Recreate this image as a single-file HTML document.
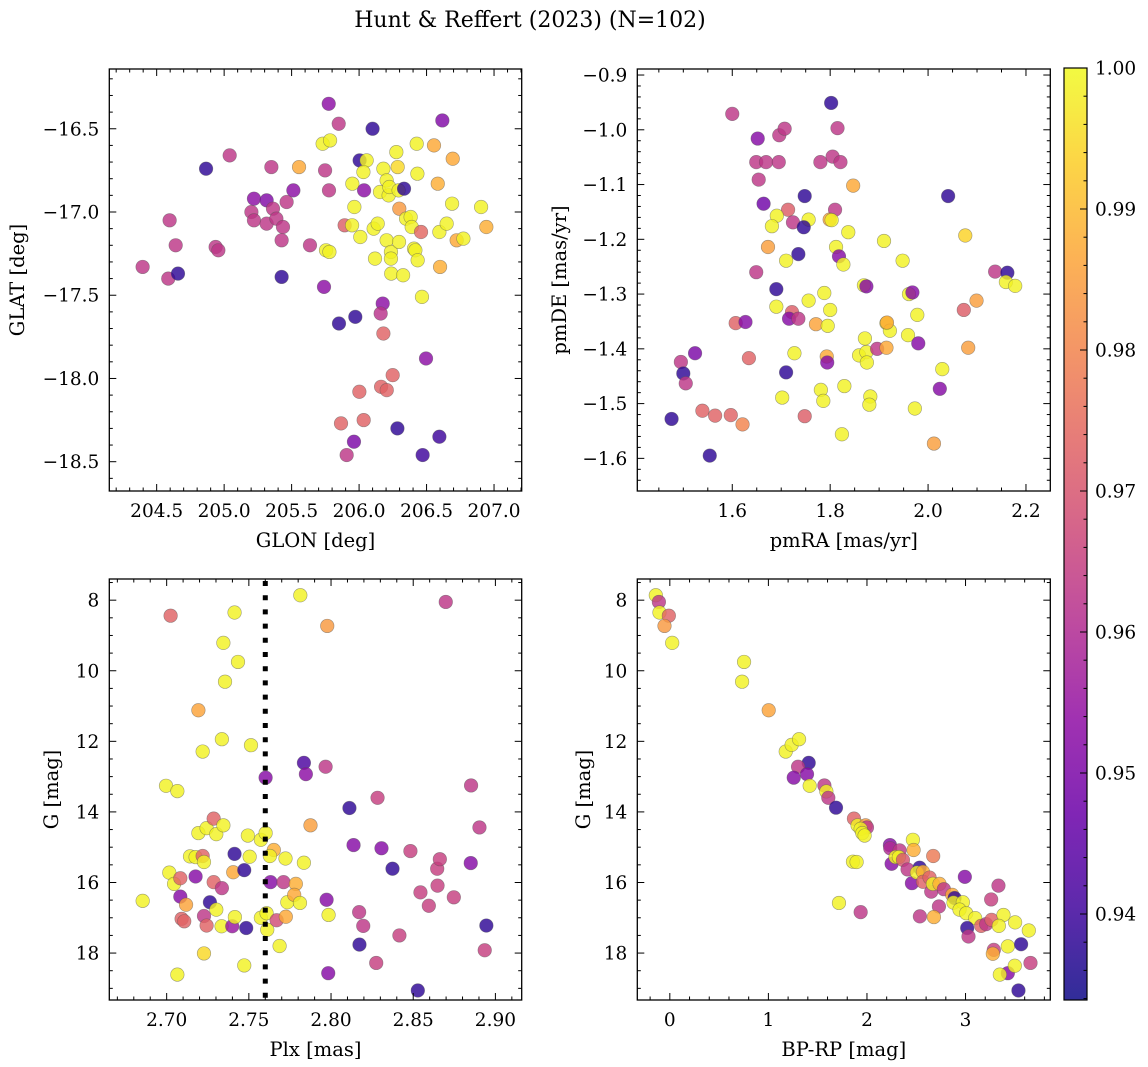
<!DOCTYPE html>
<html><head><meta charset="utf-8"><style>
html,body{margin:0;padding:0;background:#fff;}
svg{display:block;font-family:"DejaVu Serif","Liberation Serif",serif;}
</style></head><body>
<svg id="fig" width="1148" height="1067" viewBox="0 0 1148 1067" xmlns="http://www.w3.org/2000/svg">
<text x="530" y="27" font-size="22" text-anchor="middle">Hunt &amp; Reffert (2023) (N=102)</text>
</svg>
<script>
// ---------- data ----------
const p1Lon=[204.396,204.586,204.658,204.596,204.641,204.866,204.937,204.957,205.041,205.202,205.221,205.221,205.315,205.315,205.362,205.387,205.35,205.436,205.426,205.463,205.426,205.513,205.555,205.636,205.73,205.785,205.748,205.777,205.775,205.849,205.755,205.78,205.74,205.893,205.95,205.948,205.965,206.009,206.004,206.056,206.032,206.037,206.1,206.108,206.138,206.155,206.18,206.204,206.219,206.224,206.204,206.236,206.236,206.238,206.296,206.276,206.286,206.293,206.333,206.298,206.326,206.118,206.348,206.382,206.39,206.407,206.417,206.432,206.427,206.434,206.459,206.466,206.555,206.583,206.595,206.6,206.617,206.649,206.689,206.694,206.723,206.773,206.904,206.943,206.175,206.16,206.18,205.972,205.851,206.496,206.249,206.163,206.205,206.002,206.034,205.866,206.284,206.595,205.962,205.908,206.471];
const p1Lat=[-17.33,-17.40,-17.37,-17.05,-17.20,-16.74,-17.21,-17.23,-16.66,-17.0,-17.05,-16.92,-16.93,-17.07,-16.98,-17.04,-16.73,-17.09,-17.17,-16.94,-17.39,-16.87,-16.73,-17.20,-16.59,-16.57,-16.75,-16.87,-16.35,-16.47,-17.23,-17.24,-17.45,-17.08,-16.83,-17.08,-16.97,-17.15,-16.69,-16.69,-16.76,-16.87,-16.50,-17.1,-17.07,-16.88,-16.74,-16.81,-16.90,-16.85,-17.17,-17.24,-17.28,-17.37,-17.18,-16.64,-16.73,-16.87,-16.86,-16.98,-17.38,-17.28,-17.04,-17.03,-17.09,-17.22,-17.23,-16.77,-16.59,-17.29,-17.12,-17.51,-16.60,-16.83,-17.12,-17.33,-16.45,-17.07,-16.95,-16.68,-17.17,-17.16,-16.97,-17.09,-17.55,-17.61,-17.73,-17.63,-17.67,-17.88,-17.98,-18.05,-18.07,-18.08,-18.25,-18.27,-18.30,-18.35,-18.38,-18.46,-18.46];
const p1Prob=[0.963,0.963,0.938,0.963,0.963,0.938,0.963,0.963,0.963,0.963,0.963,0.953,0.951,0.963,0.963,0.963,0.963,0.963,0.963,0.963,0.938,0.953,0.987,0.963,0.999,0.999,0.963,0.963,0.953,0.963,0.999,0.999,0.953,0.972,0.999,0.999,0.999,0.999,0.938,0.999,0.999,0.953,0.938,0.999,0.999,0.999,0.999,0.999,0.999,0.999,0.999,0.999,0.999,0.999,0.999,0.999,0.995,0.999,0.938,0.984,0.999,0.999,0.999,0.999,0.999,0.999,0.999,0.999,0.999,0.999,0.974,0.999,0.987,0.988,0.999,0.988,0.951,0.999,0.999,0.987,0.987,0.999,0.999,0.988,0.953,0.962,0.973,0.938,0.938,0.953,0.973,0.973,0.973,0.973,0.973,0.973,0.938,0.940,0.950,0.963,0.940];

const p2Pmra=[1.6,1.652,1.696,1.707,1.649,1.669,1.695,1.654,1.664,1.714,1.691,1.724,1.681,1.673,1.710,1.649,1.690,1.748,1.756,1.746,1.735,1.690,1.722,1.716,1.735,1.756,1.771,1.788,1.80,1.795,1.702,1.710,1.727,1.748,1.781,1.786,1.793,1.794,1.802,1.815,1.805,1.821,1.780,1.810,1.799,1.803,1.812,1.818,1.827,1.837,1.847,1.829,1.824,1.869,1.874,1.910,1.948,1.871,1.859,1.874,1.875,1.896,1.915,1.915,1.922,1.916,1.959,1.961,1.968,1.978,1.980,1.882,1.880,1.973,2.024,2.029,2.012,2.041,2.076,2.073,2.099,2.082,2.137,2.162,2.159,2.178,1.476,1.495,1.500,1.505,1.524,1.539,1.565,1.597,1.621,1.554,1.607,1.627,1.634];
const p2Pmde=[-0.971,-1.016,-1.01,-0.998,-1.059,-1.059,-1.059,-1.091,-1.135,-1.146,-1.157,-1.169,-1.176,-1.214,-1.239,-1.260,-1.291,-1.121,-1.164,-1.178,-1.227,-1.323,-1.333,-1.345,-1.345,-1.312,-1.355,-1.298,-1.329,-1.358,-1.489,-1.443,-1.408,-1.523,-1.475,-1.495,-1.414,-1.425,-0.951,-0.997,-1.049,-1.059,-1.059,-1.146,-1.164,-1.165,-1.214,-1.231,-1.246,-1.187,-1.102,-1.468,-1.556,-1.284,-1.286,-1.203,-1.239,-1.381,-1.412,-1.406,-1.425,-1.400,-1.398,-1.353,-1.367,-1.352,-1.375,-1.300,-1.297,-1.338,-1.390,-1.487,-1.502,-1.509,-1.473,-1.437,-1.573,-1.121,-1.193,-1.329,-1.312,-1.398,-1.259,-1.261,-1.278,-1.285,-1.528,-1.424,-1.445,-1.463,-1.408,-1.513,-1.522,-1.521,-1.538,-1.595,-1.353,-1.351,-1.417];
const p2Prob=[0.963,0.952,0.963,0.963,0.963,0.963,0.963,0.963,0.948,0.972,0.999,0.963,0.999,0.985,0.999,0.963,0.938,0.938,0.999,0.938,0.938,0.999,0.972,0.952,0.963,0.999,0.986,0.999,0.999,0.999,0.999,0.938,0.999,0.972,0.999,0.999,0.987,0.952,0.938,0.963,0.963,0.963,0.963,0.963,0.987,0.999,0.999,0.952,0.999,0.999,0.987,0.999,0.999,0.999,0.952,0.999,0.999,0.999,0.999,0.999,0.999,0.963,0.987,0.999,0.999,0.987,0.999,0.999,0.952,0.999,0.952,0.999,0.999,0.999,0.952,0.999,0.985,0.938,0.994,0.972,0.985,0.985,0.963,0.938,0.999,0.999,0.938,0.963,0.938,0.963,0.950,0.973,0.973,0.973,0.980,0.938,0.973,0.952,0.973];

const p3Plx=[2.6854,2.6996,2.7024,2.7065,2.7016,2.7045,2.7083,2.7083,2.7118,2.7091,2.7107,2.7065,2.7142,2.7176,2.7219,2.7227,2.7176,2.7193,2.7243,2.7302,2.7286,2.7345,2.7193,2.7219,2.7336,2.7513,2.7345,2.7434,2.7355,2.7413,2.7286,2.7336,2.7227,2.7243,2.7227,2.7263,2.7302,2.7334,2.7399,2.7415,2.7405,2.7413,2.7472,2.7505,2.7494,2.7484,2.7472,2.7573,2.7602,2.7602,2.7652,2.7628,2.7632,2.7573,2.7608,2.7612,2.7669,2.7687,2.7711,2.7723,2.7734,2.7725,2.7786,2.7776,2.7811,2.7835,2.7813,2.7835,2.7847,2.7875,2.7967,2.7977,2.7973,2.7985,2.7983,2.8112,2.8137,2.8171,2.8196,2.8173,2.8283,2.8307,2.8275,2.8374,2.8416,2.8483,2.8544,2.8595,2.8646,2.8662,2.8648,2.8747,2.8528,2.8698,2.8852,2.8850,2.8903,2.8945,2.8935];
const p3G=[16.52,13.26,8.44,13.41,15.72,16.04,15.88,16.40,16.63,17.03,17.10,18.61,15.26,15.28,15.25,15.42,15.83,14.60,14.46,14.63,14.19,14.38,11.12,12.29,11.94,12.11,9.21,9.75,10.31,8.35,15.99,16.16,16.95,17.22,18.01,16.56,16.77,17.24,17.24,16.98,15.71,15.19,15.65,15.27,14.67,17.29,18.35,14.79,14.60,13.03,15.08,15.25,15.99,17.0,16.87,17.34,17.07,17.80,15.99,15.32,16.56,16.97,16.04,16.35,16.58,15.44,7.86,12.61,12.93,14.38,12.72,8.73,16.49,16.92,18.57,13.89,14.94,16.84,17.23,17.76,13.60,15.03,18.28,15.61,17.5,15.11,16.28,16.66,15.61,15.34,16.09,16.42,19.06,8.05,13.25,15.45,14.44,17.22,17.92];
const p3Prob=[0.999,0.999,0.973,0.999,0.999,0.999,0.973,0.952,0.986,0.973,0.973,0.999,0.999,0.999,0.973,0.999,0.952,0.999,0.999,0.999,0.973,0.999,0.986,0.999,0.999,0.999,0.999,0.999,0.999,0.999,0.973,0.963,0.963,0.973,0.995,0.938,0.999,0.999,0.955,0.999,0.987,0.938,0.938,0.999,0.999,0.938,0.999,0.999,0.999,0.952,0.988,0.999,0.952,0.999,0.999,0.999,0.968,0.999,0.963,0.999,0.999,0.987,0.988,0.987,0.999,0.999,0.999,0.942,0.953,0.985,0.963,0.984,0.952,0.999,0.952,0.938,0.952,0.963,0.963,0.938,0.965,0.952,0.965,0.938,0.965,0.965,0.965,0.965,0.965,0.965,0.965,0.965,0.938,0.963,0.963,0.952,0.963,0.938,0.965];

const p4Bprp=[-0.142,-0.111,-0.105,-0.01,-0.054,0.024,0.753,0.733,1.003,1.176,1.236,1.311,1.409,1.301,1.257,1.392,1.419,1.568,1.588,1.608,1.686,1.716,1.868,1.905,1.986,2.0,1.936,1.953,1.976,1.858,1.895,1.936,2.233,2.236,2.331,2.25,2.29,2.324,2.365,2.412,2.456,2.466,2.473,2.534,2.507,2.568,2.568,2.635,2.652,2.672,2.669,2.736,2.78,2.73,2.679,2.537,2.865,2.889,2.878,2.973,2.939,2.993,3.007,3.098,3.017,3.03,3.159,3.209,3.264,3.26,3.334,3.385,3.338,3.503,3.642,3.287,3.277,3.429,3.564,3.429,3.348,3.5,3.659,3.537];
const p4G=[7.86,8.05,8.35,8.44,8.73,9.21,9.75,10.31,11.12,12.29,12.10,11.94,12.61,12.72,13.03,12.93,13.26,13.25,13.42,13.60,13.88,16.58,14.19,14.38,14.38,14.44,14.48,14.60,14.67,15.41,15.42,16.84,14.94,15.03,15.09,15.47,15.28,15.28,15.36,15.63,16.02,14.79,15.08,15.58,15.72,15.70,15.98,15.86,16.26,15.25,16.04,16.04,16.19,16.68,16.98,16.96,16.35,16.44,16.57,16.56,16.77,15.84,16.87,17.01,17.29,17.53,17.23,17.18,17.06,16.48,16.09,16.92,17.23,17.13,17.36,17.91,18.02,17.81,17.75,18.57,18.61,18.36,18.28,19.06];
const p4Prob=[0.999,0.963,0.999,0.973,0.984,0.999,0.999,0.999,0.986,0.999,0.999,0.999,0.938,0.963,0.952,0.952,0.999,0.963,0.999,0.963,0.938,0.999,0.973,0.999,0.984,0.963,0.999,0.999,0.999,0.999,0.999,0.963,0.952,0.960,0.963,0.952,0.999,0.999,0.970,0.963,0.952,0.999,0.988,0.938,0.999,0.988,0.973,0.973,0.963,0.978,0.999,0.988,0.963,0.963,0.988,0.963,0.987,0.938,0.999,0.999,0.999,0.952,0.999,0.999,0.938,0.963,0.973,0.963,0.973,0.965,0.963,0.999,0.999,0.999,0.999,0.965,0.988,0.999,0.938,0.952,0.999,0.999,0.965,0.938];

const cbTicks=[0.94,0.95,0.96,0.97,0.98,0.99,1.00];
const vmin=0.9339, vmax=1.0;

// ---------- helpers ----------
const NS='http://www.w3.org/2000/svg';
const svg=document.getElementById('fig');
const TICK_FS=18.5, LABEL_FS=19.5;
function mk(tag,attrs,parent){const e=document.createElementNS(NS,tag);for(const k in attrs)e.setAttribute(k,attrs[k]);(parent||svg).appendChild(e);return e;}
const plasma=[[13,8,135],[65,4,157],[106,0,168],[143,13,164],[177,42,144],[204,71,120],[225,100,98],[242,132,75],[252,166,54],[252,206,37],[240,249,33]];
function cmap(p){let t=(p-vmin)/(vmax-vmin);t=Math.max(0,Math.min(1,t));const f=t*10,i=Math.min(9,Math.floor(f)),u=f-i;const a=plasma[i],b=plasma[i+1];return 'rgb('+a.map((v,k)=>Math.round(v+(b[k]-v)*u)).join(',')+')';}
function fmt(v,d){const s=Math.abs(v).toFixed(d);return (v<0?'\u2212':'')+s;}

function panel(cfg){
  const {name,L,R,T,B,xmin,xmax,ymin,ymax,invertY,xMajor,xMinor,yMajor,yMinor,xDec,yDec,xLabel,yLabel,yLabelX,xs,ys,ps}=cfg;
  const sx=v=>L+(v-xmin)/(xmax-xmin)*(R-L);
  const sy=invertY?(v=>T+(v-ymin)/(ymax-ymin)*(B-T)):(v=>B-(v-ymin)/(ymax-ymin)*(B-T));
  const g=mk('g',{});
  
  
  const clipId=name+'-clip';
  const cp=mk('clipPath',{id:clipId},g);mk('rect',{x:L,y:T,width:R-L,height:B-T},cp);
  const pts=mk('g',{'clip-path':'url(#'+clipId+')'},g);
  
  
  for(let i=0;i<xs.length;i++){
    const c=mk('circle',{cx:sx(xs[i]).toFixed(2),cy:sy(ys[i]).toFixed(2),r:6.8,fill:cmap(ps[i]),'fill-opacity':0.82,stroke:'#555','stroke-opacity':0.55,'stroke-width':0.6},pts);
    
    
  }
  if(cfg.vline!==undefined){
    const l=mk('line',{x1:sx(cfg.vline),x2:sx(cfg.vline),y1:T+2,y2:B,stroke:'#000','stroke-width':5,'stroke-dasharray':'5 9.2'},g);
    
    
  }
  const tk=mk('g',{stroke:'#000','stroke-width':1},g);
  const eps=1e-9;
  for(let v=Math.ceil(xmin/xMinor-eps)*xMinor;v<=xmax+eps;v+=xMinor){
    const x=sx(v);const isMaj=Math.abs(v/xMajor-Math.round(v/xMajor))<1e-6;const len=isMaj?7:3.5;
    mk('line',{x1:x,x2:x,y1:B,y2:B-len},tk);mk('line',{x1:x,x2:x,y1:T,y2:T+len},tk);
    if(isMaj){const t=mk('text',{x:x,y:B+26,'font-size':TICK_FS,'text-anchor':'middle',stroke:'none'},g);t.textContent=fmt(Math.round(v/xMajor)*xMajor,xDec);
      
      }
  }
  for(let v=Math.ceil(ymin/yMinor-eps)*yMinor;v<=ymax+eps;v+=yMinor){
    const y=sy(v);const isMaj=Math.abs(v/yMajor-Math.round(v/yMajor))<1e-6;const len=isMaj?7:3.5;
    mk('line',{x1:L,x2:L+len,y1:y,y2:y},tk);mk('line',{x1:R,x2:R-len,y1:y,y2:y},tk);
    if(isMaj){const t=mk('text',{x:L-10,y:y+6.5,'font-size':TICK_FS,'text-anchor':'end',stroke:'none'},g);t.textContent=fmt(Math.round(v/yMajor)*yMajor,yDec);
      
      }
  }
  const fr=mk('rect',{x:L,y:T,width:R-L,height:B-T,fill:'none',stroke:'#000','stroke-width':1.3},g);
  
  
  const xl=mk('text',{x:(L+R)/2,y:B+56,'font-size':LABEL_FS,'text-anchor':'middle'},g);xl.textContent=xLabel;
  
  
  const yc=(T+B)/2;
  const yl=mk('text',{x:yLabelX,y:yc,'font-size':LABEL_FS,'text-anchor':'middle',transform:'rotate(-90 '+yLabelX+' '+yc+')'},g);yl.textContent=yLabel;
  
  
}

panel({name:'glon-glat-panel',L:109.3,R:521.7,T:69,B:491,xmin:204.149,xmax:207.205,ymin:-18.676,ymax:-16.141,xMajor:0.5,xMinor:0.1,yMajor:0.5,yMinor:0.1,xDec:1,yDec:1,xLabel:'GLON [deg]',yLabel:'GLAT [deg]',yLabelX:24,xs:p1Lon,ys:p1Lat,ps:p1Prob});
panel({name:'pm-panel',L:637.3,R:1050.3,T:69,B:491,xmin:1.406,xmax:2.2497,ymin:-1.6596,ymax:-0.889,xMajor:0.2,xMinor:0.05,yMajor:0.1,yMinor:0.02,xDec:1,yDec:1,xLabel:'pmRA [mas/yr]',yLabel:'pmDE [mas/yr]',yLabelX:566,xs:p2Pmra,ys:p2Pmde,ps:p2Prob});
panel({name:'plx-g-panel',L:109.3,R:521.7,T:579,B:1000,xmin:2.6651,xmax:2.916,ymin:7.40,ymax:19.33,invertY:true,xMajor:0.05,xMinor:0.01,yMajor:2,yMinor:0.5,xDec:2,yDec:0,xLabel:'Plx [mas]',yLabel:'G [mag]',yLabelX:58,vline:2.76,xs:p3Plx,ys:p3G,ps:p3Prob});
panel({name:'cmd-panel',L:637.3,R:1050.3,T:579,B:1000,xmin:-0.33,xmax:3.86,ymin:7.40,ymax:19.33,invertY:true,xMajor:1,xMinor:0.2,yMajor:2,yMinor:0.5,xDec:0,yDec:0,xLabel:'BP-RP [mag]',yLabel:'G [mag]',yLabelX:590,xs:p4Bprp,ys:p4G,ps:p4Prob});

// ---------- colorbar ----------
(function(){
  const L=1064,R=1087,T=68,B=1000;
  const g=mk('g',{});
  
  
  const defs=mk('defs',{},g);
  const gr=mk('linearGradient',{id:'cbgrad',x1:0,y1:1,x2:0,y2:0},defs);
  for(let i=0;i<=20;i++){const p=vmin+(vmax-vmin)*i/20;mk('stop',{offset:(i/20),'stop-color':cmap(p),'stop-opacity':0.85},gr);}
  mk('rect',{x:L,y:T,width:R-L,height:B-T,fill:'url(#cbgrad)',stroke:'#000','stroke-width':1.2},g);
  const sy=v=>B-(v-vmin)/(vmax-vmin)*(B-T);
  for(let k=0;k<=33;k++){const v=0.934+k*0.002;if(v>vmax+1e-9)break;const y=sy(v);const maj=(k%5===3);
    mk('line',{x1:R,x2:R-(maj?7:3.5),y1:y,y2:y,stroke:'#000','stroke-width':1},g);}
  cbTicks.forEach(v=>{const y=sy(v);mk('line',{x1:R,x2:R-7,y1:y,y2:y,stroke:'#000','stroke-width':1},g);
    const t=mk('text',{x:R+8,y:y+6.5,'font-size':TICK_FS},g);t.textContent=v.toFixed(2);
    
    });
})();
</script>
</body></html>
